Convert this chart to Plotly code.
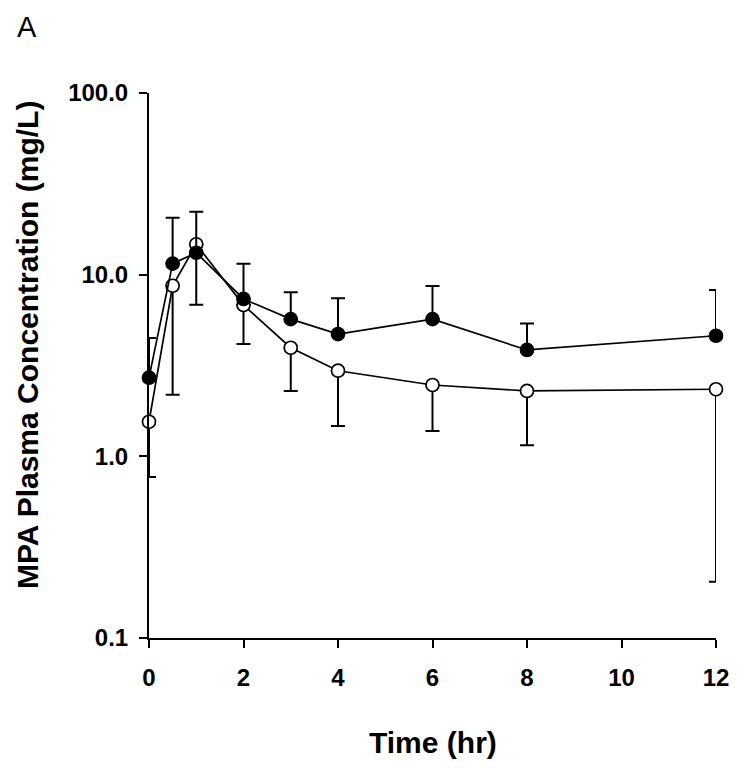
import plotly.graph_objects as go

# ---- data ----
time_hr = [0, 0.5, 1, 2, 3, 4, 6, 8, 12]

filled_mean = [2.71, 11.5, 13.2, 7.35, 5.69, 4.71, 5.69, 3.85, 4.61]
filled_upper = [4.48, 20.6, 22.2, 11.5, 7.99, 7.41, 8.65, 5.39, 8.23]

open_mean = [1.55, 8.69, 14.7, 6.8, 3.96, 2.96, 2.47, 2.29, 2.34]
open_lower = [0.77, 2.18, 6.82, 4.15, 2.29, 1.47, 1.38, 1.15, 0.204]

y_tickvals = [0.1, 1, 10, 100]
y_ticktext = ["0.1", "1.0", "10.0", "100.0"]
x_tickvals = [0, 2, 4, 6, 8, 10, 12]

W, H = 750, 773
OFF = 8  # page body margin
L, R, T, B = 149 - OFF, 34 + OFF, 93 - OFF, 135 + OFF
FONT = "Liberation Sans, Arial, sans-serif"

pw = W - L - R
ph = H - T - B


def px_x(xp):
    return (xp - OFF - L) / pw


def px_y(yp):
    return 1 - (yp - OFF - T) / ph


fig = go.Figure()

fig.add_trace(go.Scatter(
    x=time_hr, y=open_mean, mode="lines+markers",
    line=dict(color="black", width=1.7),
    marker=dict(symbol="circle", size=13, color="white",
                line=dict(color="black", width=1.7)),
    error_y=dict(type="data", symmetric=False,
                 array=[0] * len(open_mean),
                 arrayminus=[m - lo for m, lo in zip(open_mean, open_lower)],
                 color="black", thickness=2, width=7),
    cliponaxis=False, showlegend=False,
))

fig.add_trace(go.Scatter(
    x=time_hr, y=filled_mean, mode="lines+markers",
    line=dict(color="black", width=1.7),
    marker=dict(symbol="circle", size=13, color="black",
                line=dict(color="black", width=1.7)),
    error_y=dict(type="data", symmetric=False,
                 array=[u - m for m, u in zip(filled_mean, filled_upper)],
                 arrayminus=[0] * len(filled_mean),
                 color="black", thickness=2, width=7),
    cliponaxis=False, showlegend=False,
))

fig.update_layout(
    width=W, height=H,
    margin=dict(l=L, r=R, t=T, b=B, pad=0),
    paper_bgcolor="white", plot_bgcolor="white",
    font=dict(family=FONT, color="black"),
    xaxis=dict(
        range=[0, 12], tickvals=x_tickvals,
        showline=True, linecolor="black", linewidth=2,
        ticks="outside", ticklen=8, tickwidth=2, tickcolor="black",
        ticklabelstandoff=9,
        tickfont=dict(family=FONT, size=24, color="black", weight="bold"),
        showgrid=False, zeroline=False, fixedrange=True,
    ),
    yaxis=dict(
        type="log", range=[-1, 2],
        tickvals=y_tickvals, ticktext=y_ticktext,
        showline=True, linecolor="black", linewidth=2,
        ticks="outside", ticklen=8, tickwidth=2, tickcolor="black",
        ticklabelstandoff=6,
        tickfont=dict(family=FONT, size=24, color="black", weight="bold"),
        showgrid=False, zeroline=False, fixedrange=True,
    ),
    annotations=[
        dict(text="A", xref="paper", yref="paper",
             x=px_x(16), y=px_y(10),
             xanchor="left", yanchor="top", showarrow=False, borderpad=0,
             font=dict(family=FONT, size=29, color="black")),
        dict(text="<b>MPA Plasma Concentration (mg/L)</b>", xref="paper", yref="paper",
             x=px_x(27), y=px_y(345),
             xanchor="center", yanchor="middle", textangle=-90, showarrow=False,
             font=dict(family=FONT, size=30, color="black")),
        dict(text="<b>Time (hr)</b>", xref="paper", yref="paper",
             x=0.5, y=px_y(742),
             xanchor="center", yanchor="middle", showarrow=False,
             font=dict(family=FONT, size=30, color="black")),
    ],
)

fig.write_html("out.html")
